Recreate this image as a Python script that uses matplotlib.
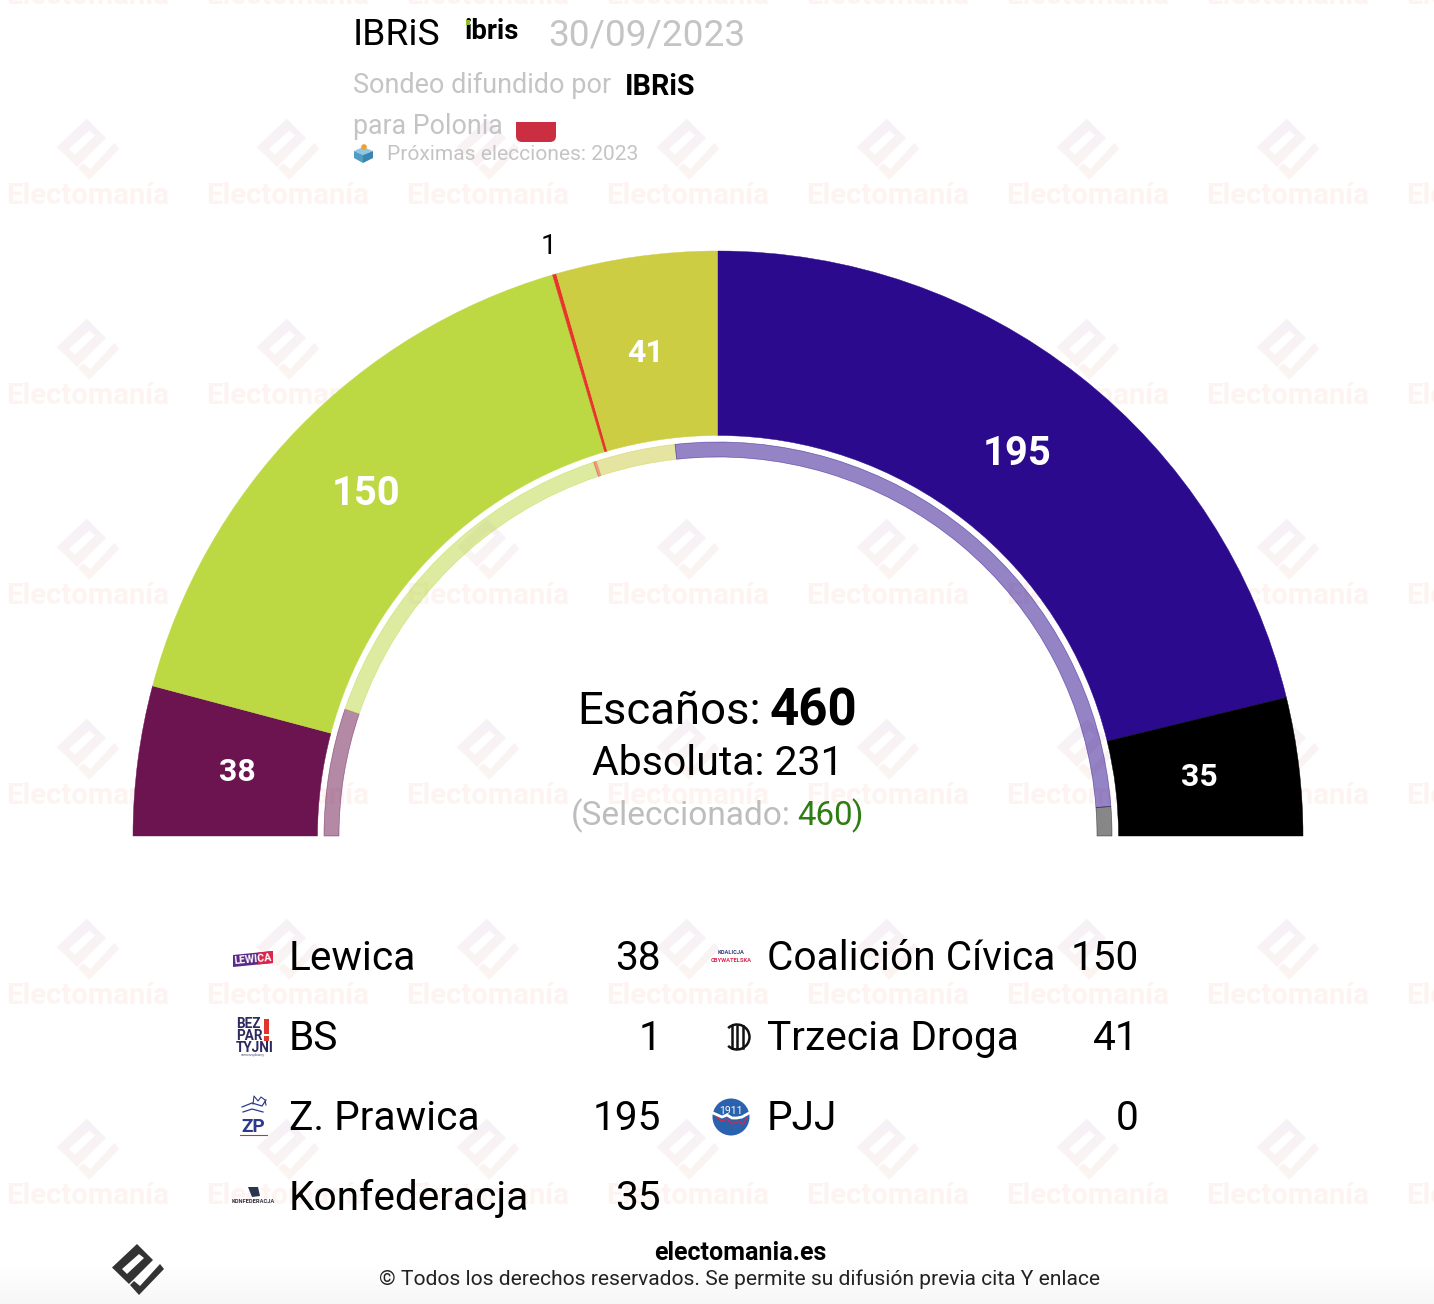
import numpy as np
import matplotlib
matplotlib.use("Agg")
import matplotlib.pyplot as plt
from matplotlib.patches import Wedge, Polygon, Rectangle, Circle, FancyBboxPatch, PathPatch, Arc
from matplotlib.path import Path
from matplotlib.colors import to_rgba, LinearSegmentedColormap

# ---- data ----
arc_parties = ["Lewica", "Coalición Cívica", "BS", "Trzecia Droga", "Z. Prawica", "Konfederacja"]
arc_seats = [38, 150, 1, 41, 195, 35]
arc_colors = ["#6b144f", "#bcd944", "#e8352a", "#cdcd44", "#2c0a8d", "#000000"]
ring_seats = [48, 135, 1, 30, 235, 11]
ring_colors = ["#6b144f", "#bcd944", "#e8352a", "#cdcd44", "#2c0a8d", "#111111"]
legend_left = ["Lewica", "BS", "Z. Prawica", "Konfederacja"]
legend_left_vals = [38, 1, 195, 35]
legend_right = ["Coalición Cívica", "Trzecia Droga", "PJJ"]
legend_right_vals = [150, 41, 0]
total_seats = 460
majority = 231
selected = 460

W, H = 1434, 1304
plt.rcParams['font.family'] = ['Roboto', 'DejaVu Sans']
fig = plt.figure(figsize=(W / 100, H / 100), dpi=100)
ax = fig.add_axes([0, 0, 1, 1])
ax.set_xlim(0, W)
ax.set_ylim(0, H)
ax.axis('off')


def Y(y):
    return H - y


def T(x, y, s, px, color='black', weight='normal', ha='left', va='baseline', z=10, **kw):
    return ax.text(x, Y(y), s, fontsize=px * 0.72, color=color, fontweight=weight,
                   ha=ha, va=va, zorder=z, **kw)


# footer shading
grad = np.linspace(0, 1, 40)[:, None]
cm = LinearSegmentedColormap.from_list('f', ['#f7f7f7', '#ffffff'])
ax.imshow(grad, extent=[0, W, 0, 40], aspect='auto', cmap=cm, vmin=0, vmax=1, zorder=0, origin='lower')

# logo outline, in footer-logo pixels relative to its centre
body = [(-1, -26), (15, -10), (-9, 14), (-26, -2.5)]
hole = [(1, -16), (-16, -1), (-11, 4), (6, -12)]
tail = [(22, -6), (26, -1), (1, 25), (-8, 15), (-4, 11), (2, 16)]


def logo_path(cx, cy, s):
    verts, codes = [], []
    for poly in (body, hole, tail):
        pts = [(cx + s * a, Y(cy + s * b)) for a, b in poly]
        verts += pts + [pts[0]]
        codes += [Path.MOVETO] + [Path.LINETO] * (len(pts) - 1) + [Path.CLOSEPOLY]
    return Path(verts, codes)


# tiled watermark
wm = LinearSegmentedColormap.from_list('w', ['#f6f1f8', '#fcf5f0'])
for i in range(8):
    for j in range(7):
        cx, cy = 88 + 200 * i, -50 + 200 * j
        if cy > 0:
            im = ax.imshow(np.linspace(0, 1, 32)[:, None], extent=[cx - 32, cx + 32, Y(cy + 32), Y(cy - 32)],
                           aspect='auto', cmap=wm, zorder=1, origin='upper')
            im.set_clip_path(PathPatch(logo_path(cx, cy, 1.2), transform=ax.transData))
        T(cx, cy + 54, "Electomanía", 29.2, color='#fdf3f0', weight='bold', ha='center', z=1)
ax.set_xlim(0, W)
ax.set_ylim(0, H)

# main hemicycle
C = (718, Y(836))
R_OUT, R_IN = 585, 400.5
RING_OUT, RING_IN = 394, 379
cum = 0
for seats, col in zip(arc_seats, arc_colors):
    a0 = 180 - cum / total_seats * 180
    a1 = 180 - (cum + seats) / total_seats * 180
    ax.add_patch(Wedge(C, R_OUT, a1, a0, width=R_OUT - R_IN, facecolor=col, edgecolor=col, lw=0.3, zorder=3))
    cum += seats

cum = 0
for seats, col in zip(ring_seats, ring_colors):
    a0 = 180 - cum / total_seats * 180
    a1 = 180 - (cum + seats) / total_seats * 180
    ax.add_patch(Wedge(C, RING_OUT, a1, a0, width=RING_OUT - RING_IN, facecolor=to_rgba(col, 0.5),
                       edgecolor=to_rgba(col, 0.55), lw=0.5, zorder=3))
    cum += seats

# seat labels: placed on each segment's mid angle, with small optical offsets
label_px = {38: 32, 150: 40, 41: 32, 195: 40, 35: 32}
label_offset = {38: (1, -1), 150: (-4, -3), 1: (2, 1), 41: (-5, -2), 195: (-1, 0), 35: (-1, -1)}
cum = 0
for seats in arc_seats:
    mid = np.radians(180 - (cum + seats / 2) / total_seats * 180)
    ox, oy = label_offset[seats]
    if seats == 1:
        ax.text(C[0] + 615 * np.cos(mid) + ox, C[1] + 615 * np.sin(mid) - oy, str(seats), fontsize=28 * 0.72,
                color='black', ha='center', va='center', zorder=10)
    else:
        ax.text(C[0] + 486 * np.cos(mid) + ox, C[1] + 486 * np.sin(mid) - oy, str(seats),
                fontsize=label_px[seats] * 0.72,
                color='white', fontweight='bold', ha='center', va='center', zorder=10)
    cum += seats

# centre texts
T(577, 724, "Escaños:", 45.5)
T(857, 725.5, str(total_seats), 51, weight='bold', ha='right')
T(718, 775, f"Absoluta: {majority}", 41, ha='center')
T(571, 825, "(Seleccionado:", 33.5, color='#bdbdbd')
T(797, 825, str(selected), 33, color='#2e7d12')
T(863, 825, ")", 33, color='#2e7d12', ha='right')

# header
T(353, 45, "IBRiS", 37.3)
T(464.5, 39, "ibris", 27.5, weight='bold')
ax.add_patch(Rectangle((465.5, Y(24.5)), 4.5, 5, facecolor='#8cc21f', lw=0, zorder=11))
T(548.5, 45, "30/09/2023", 37, color='#c4c4c4')
T(353, 93, "Sondeo difundido por", 27, color='#c4c4c4')
T(625, 95, "IBRiS", 28.8, weight='bold')
T(353, 134, "para Polonia", 26.8, color='#c4c4c4')
ax.add_patch(FancyBboxPatch((516, Y(142)), 40, 14, boxstyle='round,pad=0,rounding_size=6', lw=0, facecolor='#cb2e40', zorder=5))
ax.add_patch(Rectangle((516, Y(134)), 40, 12, lw=0, facecolor='#cb2e40', zorder=5))
T(387, 160, "Próximas elecciones: 2023", 21, color='#c4c4c4')
# ballot box icon
ax.add_patch(Polygon([(354, Y(151)), (363, Y(147)), (373, Y(151)), (363, Y(155))], facecolor='#8fc7e2', lw=0, zorder=5))
ax.add_patch(Polygon([(354, Y(151)), (363, Y(155)), (363, Y(163)), (354, Y(158))], facecolor='#4f9cc4', lw=0, zorder=5))
ax.add_patch(Polygon([(373, Y(151)), (363, Y(155)), (363, Y(163)), (373, Y(158))], facecolor='#3a86b0', lw=0, zorder=5))
ax.add_patch(Circle((364, Y(147)), 2.8, facecolor='#f0a030', lw=0, zorder=6))

# legend
row_y = [970.5, 1050.5, 1130.5, 1210.5]
for name, val, y in zip(legend_left, legend_left_vals, row_y):
    T(289, y, name, 40.6)
    T(661, y, str(val), 40.6, ha='right')
for name, val, y in zip(legend_right, legend_right_vals, row_y):
    T(767, y, name, 40.6)
    T(1139, y, str(val), 40.6, ha='right')

# small party marks
ax.add_patch(Polygon([(233, Y(955)), (273, Y(951)), (273, Y(963)), (233, Y(967))], facecolor='#5a2a86', lw=0, zorder=5))
ax.add_patch(Polygon([(258, Y(952.5)), (273, Y(951)), (273, Y(963)), (258, Y(964.5))], facecolor='#d8264e', lw=0, zorder=5))
T(253, 959, "LEWICA", 10.5, color='white', weight='bold', ha='center', va='center', rotation=5, z=6)
for s, y in zip(["BEZ", "PAR", "TYJNI"], [1029, 1041, 1053]):
    T(236, y - 1, s, 13.5, color='#2d2a5e', weight='bold')
ax.add_patch(Rectangle((264, Y(1034)), 5, 15, facecolor='#e0352b', lw=0, zorder=6))
ax.add_patch(Rectangle((264, Y(1041)), 5, 5, facecolor='#e0352b', lw=0, zorder=6))
T(252.5, 1056, "samorządowcy", 3.5, color='#555577', ha='center')
T(253, 1132, "ZP", 19, color='#2c3a8c', weight='bold', ha='center')
ax.plot([242, 252, 262, 266], [Y(1107), Y(1103), Y(1106), Y(1100)], color='#2c3a8c', lw=0.9, zorder=6)
ax.plot([243, 252, 263], [Y(1112), Y(1109), Y(1112)], color='#2c3a8c', lw=0.9, zorder=6)
ax.plot([253, 254, 258, 261, 265, 266], [Y(1104), Y(1096), Y(1101), Y(1097), Y(1100), Y(1105)], color='#2c3a8c', lw=0.8, zorder=6)
ax.plot([240, 267], [Y(1135), Y(1135)], color='#d8264e', lw=0.8, zorder=6)
ax.add_patch(Polygon([(248, Y(1187)), (258, Y(1187)), (260, Y(1196)), (252, Y(1197))], facecolor='#2b3550', lw=0, zorder=6))
T(253, 1203, "KONFEDERACJA", 5.8, color='#333344', weight='bold', ha='center')
T(731, 953, "KOALICJA", 5.8, color='#2c3a78', weight='bold', ha='center', va='center')
T(731, 961, "OBYWATELSKA", 5.8, color='#d8264e', weight='bold', ha='center', va='center')
ax.add_patch(Arc((737, Y(1037)), 25, 25, theta1=-135, theta2=135, edgecolor='#111111', lw=1.8, zorder=6))
for dx in (-5, 0, 6):
    ax.plot([737 + dx, 737 + dx], [Y(1026), Y(1048)], color='#111111', lw=1.8, zorder=7)
ax.add_patch(Circle((731, Y(1117)), 18.5, facecolor='#2a62ad', lw=0, zorder=6))
ax.plot([713, 722, 727, 732, 737, 742, 749], [Y(1113), Y(1117), Y(1115), Y(1118), Y(1118), Y(1117), Y(1113)],
        color='white', lw=2.0, zorder=7)
ax.plot([716, 722, 727, 733, 738, 743, 747], [Y(1117), Y(1121), Y(1119), Y(1124), Y(1121), Y(1124), Y(1118)],
        color='#d8264e', lw=1.0, zorder=7)
T(731, 1111, "1911", 10.5, color='white', ha='center', va='center', z=7)

# footer
T(740, 1260, "electomania.es", 25, weight='bold', ha='center')
T(739.5, 1285, "© Todos los derechos reservados. Se permite su difusión previa cita Y enlace", 21, ha='center', color='#222222')
ax.add_patch(PathPatch(logo_path(138, 1270, 1.0), facecolor='#333333', lw=0, zorder=6))

fig.savefig("out.png", dpi=100, facecolor='white')
